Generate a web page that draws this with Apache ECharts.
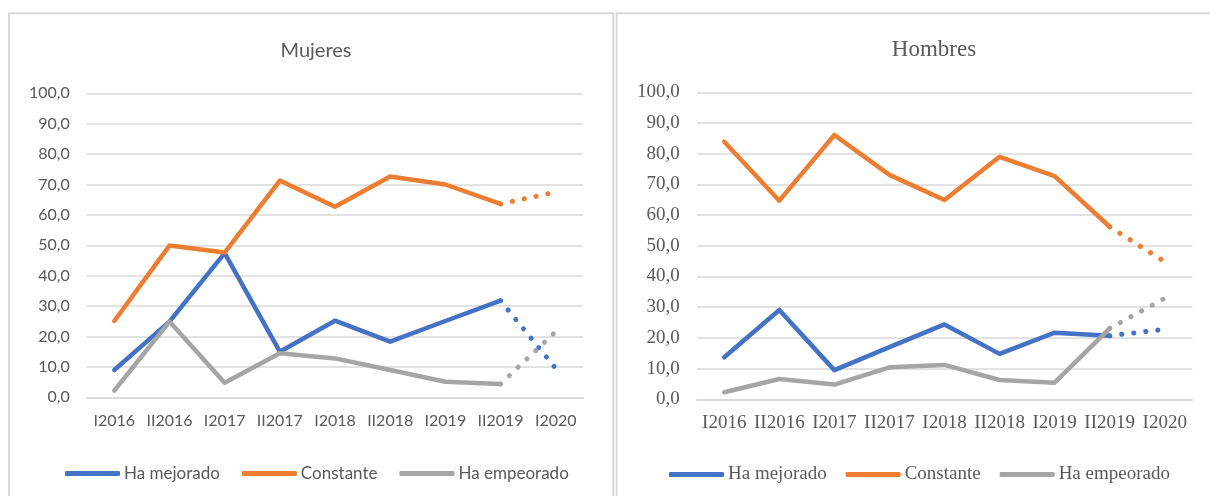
<!DOCTYPE html>
<html>
<head>
<meta charset="utf-8">
<script src="https://cdn.jsdelivr.net/npm/echarts@6/dist/echarts.min.js"></script>
<style>
  html, body { margin: 0; padding: 0; background: #fff; }
  #chart { width: 1210px; height: 496px; }
</style>
</head>
<body>
<div id="chart"></div>
<script>
const categories = ['I2016', 'II2016', 'I2017', 'II2017', 'I2018', 'II2018', 'I2019', 'II2019', 'I2020']
const seriesNames = ['Ha mejorado', 'Constante', 'Ha empeorado']
const colors = ['#4472C4', '#ED7D31', '#A5A5A5']

// Mujeres
const mujMejorado = [9.0, 24.9, 47.4, 15.0, 25.2, 18.3, 25.1, 31.8, 9.5]
const mujConstante = [25.1, 49.9, 47.6, 71.3, 62.7, 72.6, 70.0, 63.6, 67.5]
const mujEmpeorado = [2.2, 24.9, 4.8, 14.5, 12.8, 9.0, 5.1, 4.4, 21.6]

// Hombres
const homMejorado = [13.7, 29.1, 9.5, 17.0, 24.4, 14.8, 21.7, 20.7, 22.8]
const homConstante = [83.9, 64.7, 86.1, 73.1, 64.9, 79.0, 72.7, 56.2, 44.8]
const homEmpeorado = [2.3, 6.6, 4.8, 10.4, 11.2, 6.3, 5.4, 23.1, 32.9]

const yTicks = { min: 0, max: 100, interval: 10 }

const sans = 'Lato'
const serif = 'Liberation Serif'
const textColor = '#595959'
const gridColor = '#d9d9d9'

const last = categories.length - 1

// solid part up to II2019, dotted projection II2019 -> I2020
function makeSeries(values, idx, axisIdx) {
  const solid = values.map((v, i) => (i < last ? v : null))
  const dotted = values.map((v, i) => (i >= last - 1 ? v : null))
  return [
    {
      name: seriesNames[idx],
      type: 'line',
      xAxisIndex: axisIdx,
      yAxisIndex: axisIdx,
      data: solid,
      showSymbol: false,
      color: colors[idx],
      lineStyle: { width: 4.5, cap: 'round', join: 'round' },
      z: 2 + idx,
    },
    {
      name: seriesNames[idx] + ' (proy.)',
      type: 'line',
      xAxisIndex: axisIdx,
      yAxisIndex: axisIdx,
      data: dotted,
      showSymbol: false,
      color: colors[idx],
      lineStyle: { width: 5, cap: 'round', type: [0.1, 12] },
      z: 2 + idx,
    },
  ]
}

function xAxis(gridIndex, font, size, margin) {
  return {
    type: 'category',
    gridIndex,
    data: categories,
    boundaryGap: true,
    axisLine: { lineStyle: { color: gridColor, width: 1.5 } },
    axisTick: { show: false },
    axisLabel: { interval: 0, color: textColor, fontFamily: font, fontSize: size, margin },
  }
}

function yAxis(gridIndex, font, size) {
  return {
    type: 'value',
    gridIndex,
    min: yTicks.min,
    max: yTicks.max,
    interval: yTicks.interval,
    axisLine: { show: false },
    axisTick: { show: false },
    splitLine: { lineStyle: { color: gridColor, width: 1.5 } },
    axisLabel: {
      color: textColor,
      fontFamily: font,
      fontSize: size,
      margin: 17,
      formatter: (v) => v.toFixed(1).replace('.', ','),
    },
  }
}

function legend(left, font, size, gap) {
  return {
    data: seriesNames,
    left,
    top: 460,
    icon: 'roundRect',
    itemWidth: 55,
    itemHeight: 5,
    itemGap: gap,
    textStyle: { color: textColor, fontFamily: font, fontSize: size, padding: [0, 0, 0, -1] },
  }
}

const chart = echarts.init(document.getElementById('chart'), null, { renderer: 'canvas' })

chart.setOption({
  animation: false,
  graphic: [
    { type: 'rect', shape: { x: 9, y: 13.3, width: 604.3, height: 600 }, style: { fill: 'none', stroke: gridColor, lineWidth: 2 } },
    { type: 'rect', shape: { x: 616.7, y: 13.3, width: 700, height: 600 }, style: { fill: 'none', stroke: gridColor, lineWidth: 2 } },
  ],
  title: [
    { text: 'Mujeres', left: 311, top: 36, textAlign: 'center', textStyle: { fontFamily: sans, fontSize: 20, fontWeight: 'normal', color: textColor } },
    { text: 'Hombres', left: 929, top: 33, textAlign: 'center', textStyle: { fontFamily: serif, fontSize: 23, fontWeight: 'normal', color: textColor } },
  ],
  legend: [legend(60, sans, 17, 22), legend(664, serif, 19, 19)],
  grid: [
    { left: 86.7, right: 626.7, top: 93.3, bottom: 98.7 },
    { left: 696.7, right: 17.7, top: 92.3, bottom: 96.7 },
  ],
  xAxis: [xAxis(0, sans, 16, 16), xAxis(1, serif, 19, 14)],
  yAxis: [yAxis(0, sans, 16), yAxis(1, serif, 19)],
  series: [
    ...makeSeries(mujMejorado, 0, 0),
    ...makeSeries(mujConstante, 1, 0),
    ...makeSeries(mujEmpeorado, 2, 0),
    ...makeSeries(homMejorado, 0, 1),
    ...makeSeries(homConstante, 1, 1),
    ...makeSeries(homEmpeorado, 2, 1),
  ],
})
</script>
</body>
</html>
